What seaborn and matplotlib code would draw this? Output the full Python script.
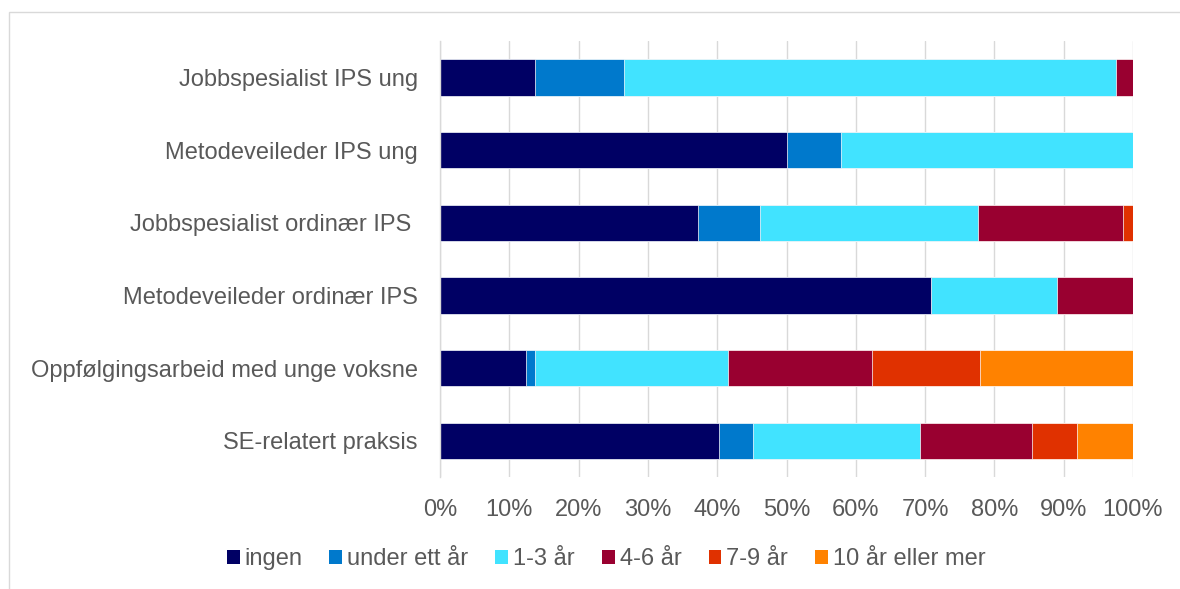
import numpy as np
import pandas as pd
import matplotlib
matplotlib.use("Agg")
import matplotlib.pyplot as plt
import seaborn as sns
from matplotlib.patches import Rectangle, Patch

categories = [
    "Jobbspesialist IPS ung",
    "Metodeveileder IPS ung",
    "Jobbspesialist ordinær IPS ",
    "Metodeveileder ordinær IPS",
    "Oppfølgingsarbeid med unge voksne",
    "SE-relatert praksis",
]
series_names = ["ingen", "under ett år", "1-3 år", "4-6 år", "7-9 år", "10 år eller mer"]
ingen = [13.7, 50.0, 37.2, 70.9, 12.4, 40.3]
under_ett_aar = [12.8, 7.8, 9.0, 0.0, 1.3, 4.8]
aar_1_3 = [71.0, 42.2, 31.4, 18.2, 27.9, 24.2]
aar_4_6 = [2.5, 0.0, 21.0, 10.9, 20.8, 16.1]
aar_7_9 = [0.0, 0.0, 1.4, 0.0, 15.5, 6.5]
aar_10_pluss = [0.0, 0.0, 0.0, 0.0, 22.1, 8.1]
x_ticks = [0, 10, 20, 30, 40, 50, 60, 70, 80, 90, 100]
x_tick_labels = [f"{v}%" for v in x_ticks]

colors = ["#000064", "#0079CC", "#41E3FF", "#990030", "#E03100", "#FF8200"]
series = [ingen, under_ett_aar, aar_1_3, aar_4_6, aar_7_9, aar_10_pluss]

sns.set_theme(style="white")
plt.rcParams["font.family"] = ["Liberation Sans", "DejaVu Sans"]
text_color = "#595959"
grid_color = "#D9D9D9"
fs = 17

fig = plt.figure(figsize=(11.8, 5.89), dpi=100)
ax = fig.add_axes([440 / 1180, 1 - 477 / 589, 693 / 1180, 436 / 589])

cum = np.zeros(len(categories))
cums = []
for s in series:
    cum = cum + np.array(s)
    cums.append(cum.copy())

for name, c, color in reversed(list(zip(series_names, cums, colors))):
    df = pd.DataFrame({"kategori": categories, "andel": c})
    sns.barplot(data=df, x="andel", y="kategori", orient="h", color=color,
                saturation=1, width=0.5, edgecolor="white", linewidth=0.5, ax=ax)

ax.set_xlim(0, 100)
ax.set_ylim(5.5, -0.5)
ax.set_xticks(x_ticks)
ax.set_xticklabels(x_tick_labels)
ax.set_xlabel("")
ax.set_ylabel("")
ax.xaxis.grid(True, color=grid_color, lw=1.0)
ax.yaxis.grid(False)
ax.set_axisbelow(True)
for sp in ["top", "right", "bottom"]:
    ax.spines[sp].set_visible(False)
ax.spines["left"].set_color(grid_color)
ax.spines["left"].set_linewidth(1.0)
ax.tick_params(axis="x", length=0, pad=15.5, labelsize=fs, labelcolor=text_color)
ax.tick_params(axis="y", length=0, pad=16, labelsize=fs, labelcolor=text_color)

# outer chart border
fig.patches.append(Rectangle((9 / 1180, -0.2), 1.3, 1.2 - 12 / 589, transform=fig.transFigure,
                             fill=False, edgecolor=grid_color, lw=1.0, zorder=0))

handles = [Patch(facecolor=c, edgecolor="none", label=n) for n, c in zip(series_names, colors)]
fig.legend(handles=handles, loc="center", bbox_to_anchor=(606 / 1180, 1 - 559 / 589), ncol=6,
           frameon=False, fontsize=fs, handlelength=0.55, handleheight=0.55,
           handletextpad=0.2, columnspacing=1.15, labelcolor=text_color)

fig.savefig("out.png", dpi=100)
